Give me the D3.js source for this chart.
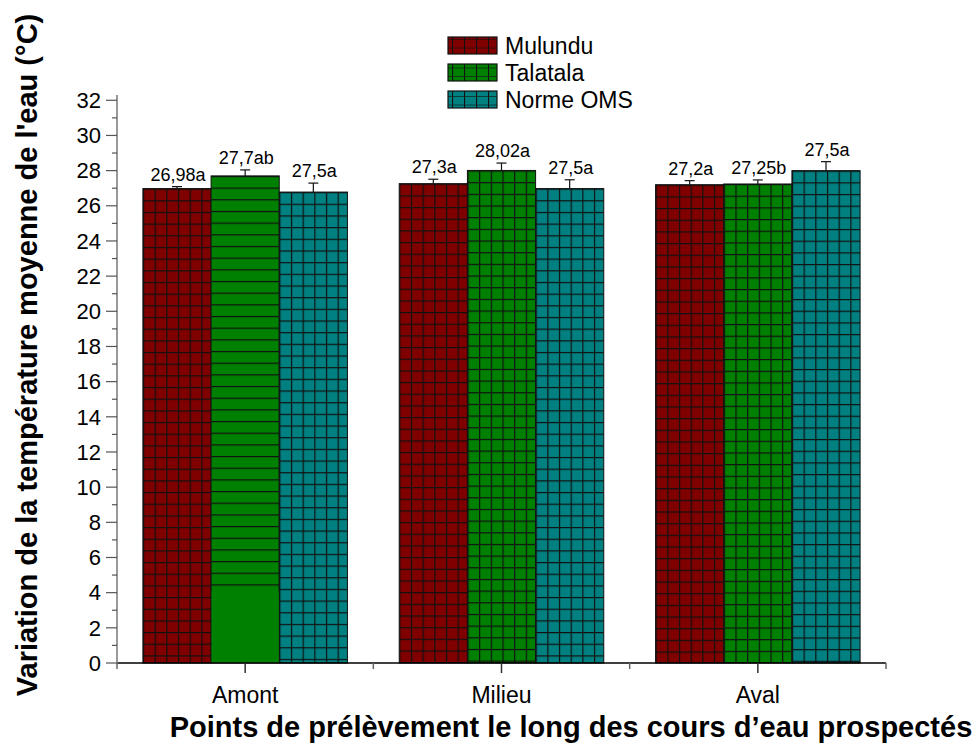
<!DOCTYPE html>
<html>
<head>
<meta charset="utf-8">
<script src="https://cdn.jsdelivr.net/npm/d3@7"></script>
<style>
  body { margin: 0; background: #fff; }
  text { font-family: 'Liberation Sans', Arial, sans-serif; }
</style>
</head>
<body>
<div id="chart"></div>
<script>
const sites = ['Amont', 'Milieu', 'Aval'];
const seriesNames = ['Mulundu', 'Talatala', 'Norme OMS'];
const seriesColors = ['#800000', '#008000', '#008080'];
// bar heights
const mulundu = [26.98, 27.26, 27.2];
const talatala = [27.7, 28.01, 27.24];
const normeOms = [26.78, 26.98, 28.0];
// error bar half-lengths
const mulunduErr = [0.11, 0.25, 0.23];
const talatalaErr = [0.34, 0.42, 0.23];
const normeOmsErr = [0.51, 0.5, 0.51];
// labels printed above the bars
const mulunduLabels = ['26,98a', '27,3a', '27,2a'];
const talatalaLabels = ['27,7ab', '28,02a', '27,25b'];
const normeOmsLabels = ['27,5a', '27,5a', '27,5a'];
const yTicks = d3.range(0, 33, 2);

const width = 979;
const height = 751;
const margin = {top: 95, right: 93, bottom: 88, left: 117};
const cell = 11.67;

const series = [
  {values: mulundu, err: mulunduErr, labels: mulunduLabels},
  {values: talatala, err: talatalaErr, labels: talatalaLabels},
  {values: normeOms, err: normeOmsErr, labels: normeOmsLabels},
];

const svg = d3.select('#chart').append('svg')
  .attr('width', width)
  .attr('height', height);
const defs = svg.append('defs');

const x = d3.scaleBand()
  .domain(sites)
  .range([margin.left, width - margin.right]);
const xInner = d3.scaleBand()
  .domain(seriesNames)
  .range([0, x.bandwidth()])
  .paddingOuter(0.38);
const y = d3.scaleLinear()
  .domain([0, 32.3])
  .range([height - margin.bottom, margin.top]);

// flatten into one list of bars
const bars = [];
series.forEach((s, si) => {
  sites.forEach((site, ci) => {
    bars.push({
      site, si, name: seriesNames[si], value: s.values[ci],
      err: s.err[ci], label: s.labels[ci],
      // the Amont Talatala bar only shows horizontal hatching
      hOnly: si === 1 && ci === 0,
    });
  });
});

// one pattern per bar so the grid starts at the bar's top-left corner
bars.forEach((d, i) => {
  const bx = x(d.site) + xInner(d.name);
  const by = y(d.value);
  const p = defs.append('pattern')
    .attr('id', `pat${i}`)
    .attr('patternUnits', 'userSpaceOnUse')
    .attr('x', bx).attr('y', by)
    .attr('width', cell).attr('height', cell);
  p.append('rect')
    .attr('width', cell).attr('height', cell)
    .attr('fill', seriesColors[d.si]);
  p.append('line')
    .attr('x1', 0).attr('x2', cell).attr('y1', 0.5).attr('y2', 0.5)
    .attr('stroke', '#111').attr('stroke-width', 1.4);
  if (!d.hOnly) {
    p.append('line')
      .attr('x1', 0.5).attr('x2', 0.5).attr('y1', 0).attr('y2', cell)
      .attr('stroke', '#111').attr('stroke-width', 1.4);
  }
});

const barG = svg.append('g');
barG.selectAll('rect.bar')
  .data(bars)
  .join('rect')
  .attr('class', 'bar')
  .attr('x', (d) => x(d.site) + xInner(d.name))
  .attr('y', (d) => y(d.value))
  .attr('width', xInner.bandwidth())
  .attr('height', (d) => y(0) - y(d.value))
  .attr('fill', (d, i) => `url(#pat${i})`)
  .attr('stroke', '#111')
  .attr('stroke-width', 1);

// lower part of the Amont Talatala bar is plain
const plainBelow = 4.05;
barG.selectAll('rect.plain')
  .data(bars.filter((d) => d.hOnly))
  .join('rect')
  .attr('class', 'plain')
  .attr('x', (d) => x(d.site) + xInner(d.name) + 0.5)
  .attr('y', y(plainBelow))
  .attr('width', xInner.bandwidth() - 1)
  .attr('height', y(0) - y(plainBelow))
  .attr('fill', seriesColors[1]);

// error bars
const errG = svg.append('g').attr('stroke', '#111').attr('stroke-width', 1.2);
bars.forEach((d) => {
  const cx = x(d.site) + xInner(d.name) + xInner.bandwidth() / 2;
  errG.append('line')
    .attr('x1', cx).attr('x2', cx)
    .attr('y1', y(d.value)).attr('y2', y(d.value + d.err));
  errG.append('line')
    .attr('x1', cx - 5).attr('x2', cx + 5)
    .attr('y1', y(d.value + d.err)).attr('y2', y(d.value + d.err));
});

// value labels
svg.append('g').selectAll('text')
  .data(bars)
  .join('text')
  .attr('x', (d) => x(d.site) + xInner(d.name) + xInner.bandwidth() / 2 + 1)
  .attr('y', (d) => y(d.value + d.err) - 6)
  .attr('text-anchor', 'middle')
  .style('font-size', '18px')
  .text((d) => d.label);

// x axis
const xAxisG = svg.append('g')
  .attr('transform', `translate(0, ${y(0)})`);
xAxisG.append('line')
  .attr('x1', margin.left).attr('x2', width - margin.right)
  .attr('stroke', '#000').attr('stroke-width', 1.5);
xAxisG.selectAll('line.minor')
  .data(d3.range(sites.length + 1))
  .join('line')
  .attr('class', 'minor')
  .attr('x1', (i) => margin.left + i * x.step())
  .attr('x2', (i) => margin.left + i * x.step())
  .attr('y2', 6)
  .attr('stroke', '#666').attr('stroke-width', 1.5);
xAxisG.selectAll('line.major')
  .data(sites)
  .join('line')
  .attr('class', 'major')
  .attr('x1', (d) => x(d) + x.bandwidth() / 2)
  .attr('x2', (d) => x(d) + x.bandwidth() / 2)
  .attr('y2', 10)
  .attr('stroke', '#333').attr('stroke-width', 1.5);
xAxisG.selectAll('text')
  .data(sites)
  .join('text')
  .attr('x', (d) => x(d) + x.bandwidth() / 2)
  .attr('y', 40)
  .attr('text-anchor', 'middle')
  .style('font-size', '23px')
  .text((d) => d);

// y axis
const yAxisG = svg.append('g')
  .attr('transform', `translate(${margin.left}, 0)`);
yAxisG.append('line')
  .attr('y1', margin.top).attr('y2', y(0))
  .attr('stroke', '#777').attr('stroke-width', 1.5);
yAxisG.selectAll('line.major')
  .data(yTicks)
  .join('line')
  .attr('class', 'major')
  .attr('x1', -11).attr('x2', 0)
  .attr('y1', (d) => y(d)).attr('y2', (d) => y(d))
  .attr('stroke', '#555').attr('stroke-width', 1.2);
yAxisG.selectAll('line.minor')
  .data(yTicks.slice(0, -1).map((d) => d + 1))
  .join('line')
  .attr('class', 'minor')
  .attr('x1', -5).attr('x2', 0)
  .attr('y1', (d) => y(d)).attr('y2', (d) => y(d))
  .attr('stroke', '#555').attr('stroke-width', 1.2);
yAxisG.selectAll('text')
  .data(yTicks)
  .join('text')
  .attr('x', -16)
  .attr('y', (d) => y(d))
  .attr('dy', '0.35em')
  .attr('text-anchor', 'end')
  .style('font-size', '22px')
  .text((d) => d);

// axis titles
svg.append('text')
  .attr('transform', `translate(37, ${355}) rotate(-90)`)
  .attr('text-anchor', 'middle')
  .style('font-size', '29px')
  .style('font-weight', 'bold')
  .text("Variation de la température moyenne de l'eau (°C)");
svg.append('text')
  .attr('x', 571)
  .attr('y', 737)
  .attr('text-anchor', 'middle')
  .style('font-size', '29px')
  .style('font-weight', 'bold')
  .text('Points de prélèvement le long des cours d’eau prospectés');

// legend
const legend = svg.append('g').attr('transform', 'translate(448, 37)');
const legendRow = legend.selectAll('g')
  .data(seriesNames)
  .join('g')
  .attr('transform', (d, i) => `translate(0, ${i * 27})`);
legendRow.each(function (d, i) {
  const p = defs.append('pattern')
    .attr('id', `legpat${i}`)
    .attr('patternUnits', 'userSpaceOnUse')
    .attr('x', 448).attr('y', 37 + i * 27)
    .attr('width', 12).attr('height', 8.5);
  p.append('rect').attr('width', 12).attr('height', 8.5).attr('fill', seriesColors[i]);
  p.append('line').attr('x1', 0.5).attr('x2', 0.5).attr('y2', 8.5)
    .attr('stroke', '#111').attr('stroke-width', 1.2);
  p.append('line').attr('y1', 8.5).attr('y2', 8.5).attr('x2', 12)
    .attr('stroke', '#111').attr('stroke-width', 1.2);
});
legendRow.append('rect')
  .attr('width', 49).attr('height', 17)
  .attr('fill', (d, i) => `url(#legpat${i})`)
  .attr('stroke', '#111').attr('stroke-width', 1.2);
legendRow.append('text')
  .attr('x', 57).attr('y', 9)
  .attr('dy', '0.35em')
  .style('font-size', '23px')
  .text((d) => d);
</script>
</body>
</html>
